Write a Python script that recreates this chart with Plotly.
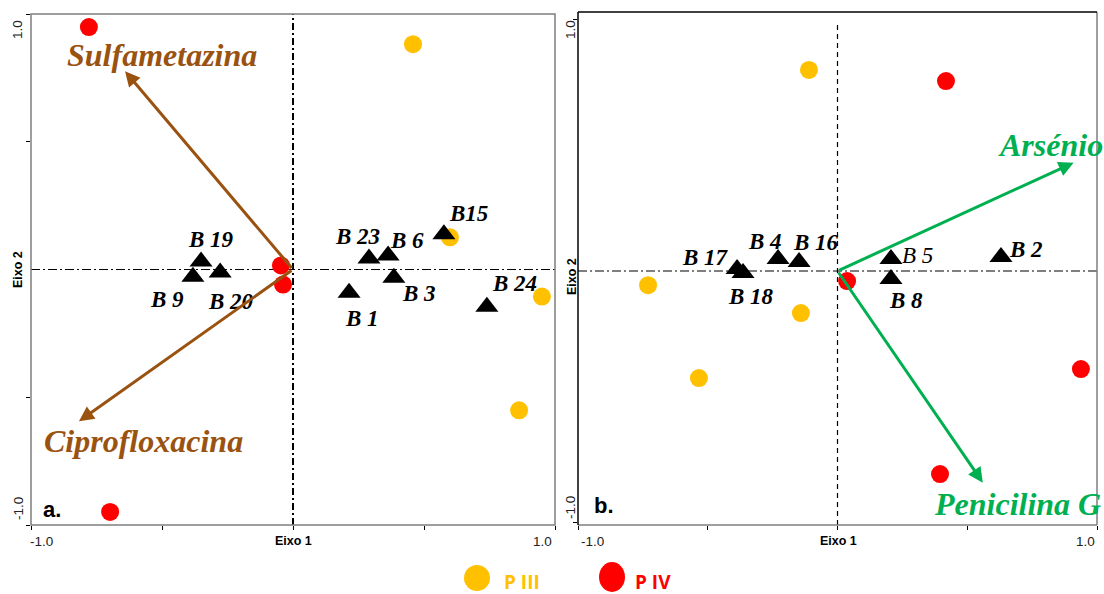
import plotly.graph_objects as go

# ---------------- data ----------------
# Panel a
a_piii_x = [0.458, 0.599, 0.950, 0.863]
a_piii_y = [0.882, 0.126, -0.106, -0.551]
a_piv_x = [-0.779, -0.698, -0.046, -0.038]
a_piv_y = [0.949, -0.949, 0.016, -0.059]
a_sp_names = ["B 19", "B 9", "B 20", "B 23", "B 6", "B 3", "B 1", "B15", "B 24"]
a_sp_x = [-0.351, -0.382, -0.278, 0.290, 0.363, 0.385, 0.214, 0.576, 0.740]
a_sp_y = [0.031, -0.028, -0.012, 0.043, 0.055, -0.032, -0.091, 0.138, -0.146]
a_lab_dx = [0.038, -0.099, 0.041, -0.042, 0.072, 0.095, 0.050, 0.095, 0.105]
a_lab_dy = [0.087, -0.090, -0.114, 0.085, 0.060, -0.062, -0.100, 0.080, 0.090]
a_env_names = ["Sulfametazina", "Ciprofloxacina"]
a_env_x = [-0.641, -0.817]
a_env_y = [0.776, -0.594]

# Panel b
b_piii_x = [-0.110, -0.730, -0.534, -0.141]
b_piii_y = [0.798, -0.056, -0.425, -0.167]
b_piv_x = [0.418, 0.037, 0.938, 0.395]
b_piv_y = [0.754, -0.040, -0.389, -0.806]
b_sp_names = ["B 17", "B 18", "B 4", "B 16", "B 5", "B 8", "B 2"]
b_sp_x = [-0.387, -0.364, -0.229, -0.148, 0.206, 0.206, 0.630]
b_sp_y = [0.008, -0.008, 0.048, 0.036, 0.048, -0.032, 0.056]
b_lab_dx = [-0.120, 0.031, -0.050, 0.065, 0.104, 0.058, 0.096]
b_lab_dy = [0.044, -0.095, 0.071, 0.079, 0.012, -0.083, 0.031]
b_env_names = ["Arsénio", "Penicilina G"]
b_env_x = [0.910, 0.560]
b_env_y = [0.430, -0.840]

# legend / labels
group_names = ["P III", "P IV"]
group_colors = ["#FFC000", "#FF0000"]
brown = "#9A5210"
green = "#00B050"

fig = go.Figure()

def add_panel(xa, ya, piii_x, piii_y, piv_x, piv_y, sx, sy):
    fig.add_trace(go.Scatter(x=piii_x, y=piii_y, mode="markers", xaxis=xa, yaxis=ya,
                             marker=dict(color=group_colors[0], size=18, line=dict(width=0)),
                             name=group_names[0], showlegend=False))
    fig.add_trace(go.Scatter(x=piv_x, y=piv_y, mode="markers", xaxis=xa, yaxis=ya,
                             marker=dict(color=group_colors[1], size=18, line=dict(width=0)),
                             name=group_names[1], showlegend=False))
    fig.add_trace(go.Scatter(x=sx, y=sy, mode="markers", xaxis=xa, yaxis=ya,
                             marker=dict(color="black", symbol="triangle-up", size=20, line=dict(width=0)),
                             showlegend=False))

add_panel("x", "y", a_piii_x, a_piii_y, a_piv_x, a_piv_y, a_sp_x, a_sp_y)
add_panel("x2", "y2", b_piii_x, b_piii_y, b_piv_x, b_piv_y, b_sp_x, b_sp_y)

annotations = []
shapes = []

serif = "Liberation Serif"
sans = "Liberation Sans"

# species labels
for n, x, y, dx, dy in zip(a_sp_names, a_sp_x, a_sp_y, a_lab_dx, a_lab_dy):
    annotations.append(dict(x=x + dx, y=y + dy, xref="x", yref="y", text="<b><i>%s</i></b>" % n,
                            xanchor="center", yanchor="middle",
                            showarrow=False, font=dict(family=serif, size=23, color="black")))
for n, x, y, dx, dy in zip(b_sp_names, b_sp_x, b_sp_y, b_lab_dx, b_lab_dy):
    t = "<i>%s</i>" % n if n == "B 5" else "<b><i>%s</i></b>" % n
    annotations.append(dict(x=x + dx, y=y + dy, xref="x2", yref="y2", text=t,
                            xanchor="center", yanchor="middle",
                            showarrow=False, font=dict(family=serif, size=23, color="black")))

# environmental arrows
for (xr, yr, names, ex, ey, col) in [("x", "y", a_env_names, a_env_x, a_env_y, brown),
                                       ("x2", "y2", b_env_names, b_env_x, b_env_y, green)]:
    for n, x, y in zip(names, ex, ey):
        annotations.append(dict(x=x, y=y, ax=0, ay=0, xref=xr, yref=yr, axref=xr, ayref=yr,
                                showarrow=True, arrowhead=2, arrowsize=1.0, arrowwidth=3,
                                arrowcolor=col, text=""))

# variable names (paper px positions)
W, H = 1104, 594
def px(x):
    return x / W
def py(y):
    return 1 - y / H

def ann(text, x, y, font, angle=0):
    annotations.append(dict(x=px(x), y=py(y), xref="paper", yref="paper", text=text,
                            xanchor="center", yanchor="middle", textangle=angle,
                            showarrow=False, font=font))

var_labels = [("Sulfametazina", 162, 55, brown), ("Ciprofloxacina", 143, 441, brown),
              ("Arsénio", 1050, 145, green), ("Penicilina G", 1017, 504, green)]
for t, x, y, c in var_labels:
    ann("<b><i>%s</i></b>" % t, x, y, dict(family=serif, size=32, color=c))

# axis titles and tick labels
tick_font = dict(family=sans, size=13.5, color="#222")
for x in [293, 838]:
    ann("<b>Eixo 1</b>", x, 541, dict(family=sans, size=12.5, color="black"))
for x, y in [(18, 270), (572, 277)]:
    ann("<b>Eixo 2</b>", x, y, dict(family=sans, size=12.5, color="black"), -90)
for t, x, y in [("-1.0", 41, 541), ("1.0", 542, 541), ("-1.0", 592, 541), ("1.0", 1085, 541)]:
    ann(t, x, y, tick_font)
for t, x, y in [("1.0", 18, 30), ("-1.0", 18, 509), ("1.0", 571, 30), ("-1.0", 570, 508)]:
    ann(t, x, y, tick_font, -90)
for t, x, y in [("a.", 52, 509), ("b.", 604, 505)]:
    ann("<b>%s</b>" % t, x, y, dict(family=sans, size=22, color="black"))

# bottom legend
leg = [(477, 578, 13, 13, 522, group_names[0], group_colors[0]),
       (612, 577, 13, 15, 653, group_names[1], group_colors[1])]
for cx, cy, rx, ry, tx, t, c in leg:
    shapes.append(dict(type="circle", xref="paper", yref="paper",
                       x0=px(cx - rx), x1=px(cx + rx), y0=py(cy + ry), y1=py(cy - ry),
                       fillcolor=c, line=dict(width=0)))
    ann("<b>%s</b>" % t, tx, 582, dict(family="Open Sans", size=19, color=c))

# frames
gray = "#7f7f7f"
shapes.append(dict(type="rect", xref="x domain", yref="y domain", x0=0, x1=1, y0=0, y1=1,
                   line=dict(color=gray, width=1.5), layer="above"))
shapes += [
    dict(type="line", xref="x2 domain", yref="y2 domain", x0=0, x1=1, y0=0, y1=0, line=dict(color=gray, width=1.5)),
    dict(type="line", xref="x2 domain", yref="y2 domain", x0=1, x1=1, y0=0, y1=1, line=dict(color=gray, width=1.5)),
    dict(type="line", xref="x2 domain", yref="y2 domain", x0=0, x1=0, y0=0, y1=1, line=dict(color="black", width=1.5)),
    dict(type="line", xref="x2 domain", yref="y2 domain", x0=0, x1=1, y0=1, y1=1, line=dict(color="black", width=1.5)),
]
# zero lines
shapes += [
    dict(type="line", xref="x domain", yref="y", x0=0, x1=1, y0=0, y1=0, layer="below",
         line=dict(color="black", width=1.2, dash="9px,3px,2px,3px")),
    dict(type="line", xref="x", yref="y domain", x0=0, x1=0, y0=0, y1=1, layer="below",
         line=dict(color="black", width=2, dash="7px,3px,2px,3px")),
    dict(type="line", xref="x2 domain", yref="y2", x0=0, x1=1, y0=0, y1=0, layer="below",
         line=dict(color="black", width=1.2, dash="9px,3px,2px,3px")),
    dict(type="line", xref="x2", yref="y2", x0=0, x1=0, y0=-1.008, y1=0.985, layer="below",
         line=dict(color="black", width=1.2, dash="5px,4px")),
]

axis_common = dict(showgrid=False, zeroline=False, showline=False, ticks="outside", ticklen=4,
                   tickcolor="black", tickwidth=1.2, showticklabels=False, fixedrange=True)

fig.update_layout(
    width=W, height=H, margin=dict(l=0, r=0, t=0, b=0),
    paper_bgcolor="white", plot_bgcolor="white", showlegend=False,
    xaxis=dict(domain=[px(31), px(555)], range=[-1, 1], tickvals=[-1, -0.5, 0, 0.5, 1], anchor="y", **axis_common),
    yaxis=dict(domain=[py(525), py(14)], range=[-1.0, 1.0], tickvals=[-1, -0.5, 0.5, 1], anchor="x", **axis_common),
    xaxis2=dict(domain=[px(578), px(1097)], range=[-1, 1], tickvals=[-1, -0.5, 0, 0.5, 1], anchor="y2", **axis_common),
    yaxis2=dict(domain=[py(525), py(12)], range=[-1.008, 1.028], tickvals=[-1, 1], anchor="x2", **axis_common),
    annotations=annotations, shapes=shapes,
)

fig.write_html("out.html", config={"displayModeBar": False},
               post_script="document.body.style.margin='0px';document.body.style.overflow='hidden';")
